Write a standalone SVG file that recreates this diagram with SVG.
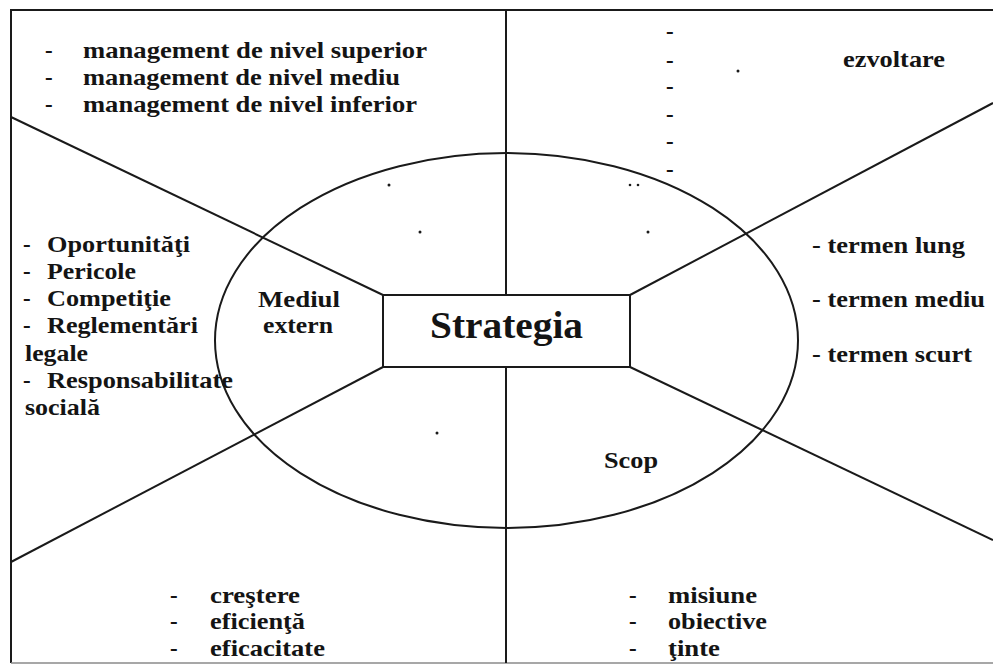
<svg xmlns="http://www.w3.org/2000/svg" width="993" height="666" viewBox="0 0 993 666">
  <style>
    .ln { fill: none; stroke: #1a1a1a; stroke-width: 2; }
    .t { font-family: "Liberation Serif", "Times New Roman", serif; font-weight: bold; font-size: 23px; fill: #141414; }
    .big { font-size: 37px; }
    .dot { fill: #1a1a1a; }
  </style>
  <rect width="993" height="666" fill="#ffffff"/>

  <!-- outer frame and quadrant divider -->
  <g id="frame">
    <path class="ln" d="M11 663 V10 H993"/>
    <line x1="11" y1="663" x2="993" y2="663" stroke="#8a8a8a" stroke-width="1.5"/>
  </g>

  <!-- connectors: divider and rays from the central box -->
  <g id="connectors">
    <line class="ln" x1="506" y1="10" x2="506" y2="295"/>
    <line class="ln" x1="506" y1="367" x2="506" y2="663"/>
    <line class="ln" x1="11" y1="117" x2="383" y2="295"/>
    <line class="ln" x1="11" y1="562" x2="383" y2="367"/>
    <line class="ln" x1="993" y1="103" x2="630" y2="295"/>
    <line class="ln" x1="993" y1="540" x2="630" y2="367"/>
  </g>

  <g id="ellipse">
    <ellipse class="ln" cx="506.5" cy="340.5" rx="291.5" ry="187.5"/>
  </g>

  <g id="strategia">
    <rect x="383" y="295" width="247" height="72" fill="#ffffff" stroke="#1a1a1a" stroke-width="2"/>
    <text class="t big" x="430" y="338" textLength="153" lengthAdjust="spacingAndGlyphs">Strategia</text>
  </g>

  <g id="mediul-extern">
    <text class="t" x="258" y="307" textLength="82" lengthAdjust="spacingAndGlyphs">Mediul</text>
    <text class="t" x="263" y="333" textLength="70" lengthAdjust="spacingAndGlyphs">extern</text>
  </g>

  <g id="scop">
    <text class="t" x="604" y="468" textLength="54" lengthAdjust="spacingAndGlyphs">Scop</text>
  </g>

  <g id="management">
    <text class="t" x="45" y="58">-</text>
    <text class="t" x="83" y="58" textLength="344" lengthAdjust="spacingAndGlyphs">management de nivel superior</text>
    <text class="t" x="45" y="85">-</text>
    <text class="t" x="83" y="85" textLength="317" lengthAdjust="spacingAndGlyphs">management de nivel mediu</text>
    <text class="t" x="45" y="112">-</text>
    <text class="t" x="83" y="112" textLength="334" lengthAdjust="spacingAndGlyphs">management de nivel inferior</text>
  </g>

  <g id="dezvoltare">
    <text class="t" x="666" y="39">-</text>
    <text class="t" x="666" y="68">-</text>
    <text class="t" x="666" y="94">-</text>
    <text class="t" x="666" y="122">-</text>
    <text class="t" x="666" y="149">-</text>
    <text class="t" x="666" y="177">-</text>
    <text class="t" x="843" y="67" textLength="102" lengthAdjust="spacingAndGlyphs">ezvoltare</text>
  </g>

  <g id="mediu-factori">
    <text class="t" x="23" y="252">-</text>
    <text class="t" x="47" y="252" textLength="143" lengthAdjust="spacingAndGlyphs">Oportunităţi</text>
    <text class="t" x="23" y="279">-</text>
    <text class="t" x="47" y="279" textLength="89" lengthAdjust="spacingAndGlyphs">Pericole</text>
    <text class="t" x="23" y="306">-</text>
    <text class="t" x="47" y="306" textLength="124" lengthAdjust="spacingAndGlyphs">Competiţie</text>
    <text class="t" x="23" y="333">-</text>
    <text class="t" x="47" y="333" textLength="151" lengthAdjust="spacingAndGlyphs">Reglementări</text>
    <text class="t" x="25" y="361" textLength="63" lengthAdjust="spacingAndGlyphs">legale</text>
    <text class="t" x="23" y="388">-</text>
    <text class="t" x="47" y="388" textLength="186" lengthAdjust="spacingAndGlyphs">Responsabilitate</text>
    <text class="t" x="25" y="415" textLength="75" lengthAdjust="spacingAndGlyphs">socială</text>
  </g>

  <g id="orizont">
    <text class="t" x="812" y="253" textLength="153" lengthAdjust="spacingAndGlyphs">- termen lung</text>
    <text class="t" x="812" y="307" textLength="173" lengthAdjust="spacingAndGlyphs">- termen mediu</text>
    <text class="t" x="812" y="362" textLength="160" lengthAdjust="spacingAndGlyphs">- termen scurt</text>
  </g>

  <g id="performanta">
    <text class="t" x="170" y="603">-</text>
    <text class="t" x="210" y="603" textLength="90" lengthAdjust="spacingAndGlyphs">creştere</text>
    <text class="t" x="170" y="629">-</text>
    <text class="t" x="210" y="629" textLength="95" lengthAdjust="spacingAndGlyphs">eficienţă</text>
    <text class="t" x="170" y="656">-</text>
    <text class="t" x="210" y="656" textLength="115" lengthAdjust="spacingAndGlyphs">eficacitate</text>
  </g>

  <g id="scopuri">
    <text class="t" x="629" y="603">-</text>
    <text class="t" x="668" y="603" textLength="89" lengthAdjust="spacingAndGlyphs">misiune</text>
    <text class="t" x="629" y="629">-</text>
    <text class="t" x="668" y="629" textLength="99" lengthAdjust="spacingAndGlyphs">obiective</text>
    <text class="t" x="629" y="656">-</text>
    <text class="t" x="668" y="656" textLength="52" lengthAdjust="spacingAndGlyphs">ţinte</text>
  </g>

  <!-- stray print marks -->
  <g id="marks">
    <circle class="dot" cx="389" cy="185" r="1.5"/>
    <circle class="dot" cx="420" cy="232" r="1.5"/>
    <circle class="dot" cx="648" cy="232" r="1.5"/>
    <circle class="dot" cx="437" cy="433" r="1.5"/>
    <circle class="dot" cx="738" cy="71" r="1.5"/>
    <circle class="dot" cx="630" cy="185" r="1.3"/>
    <circle class="dot" cx="638" cy="185" r="1.3"/>
  </g>
</svg>
